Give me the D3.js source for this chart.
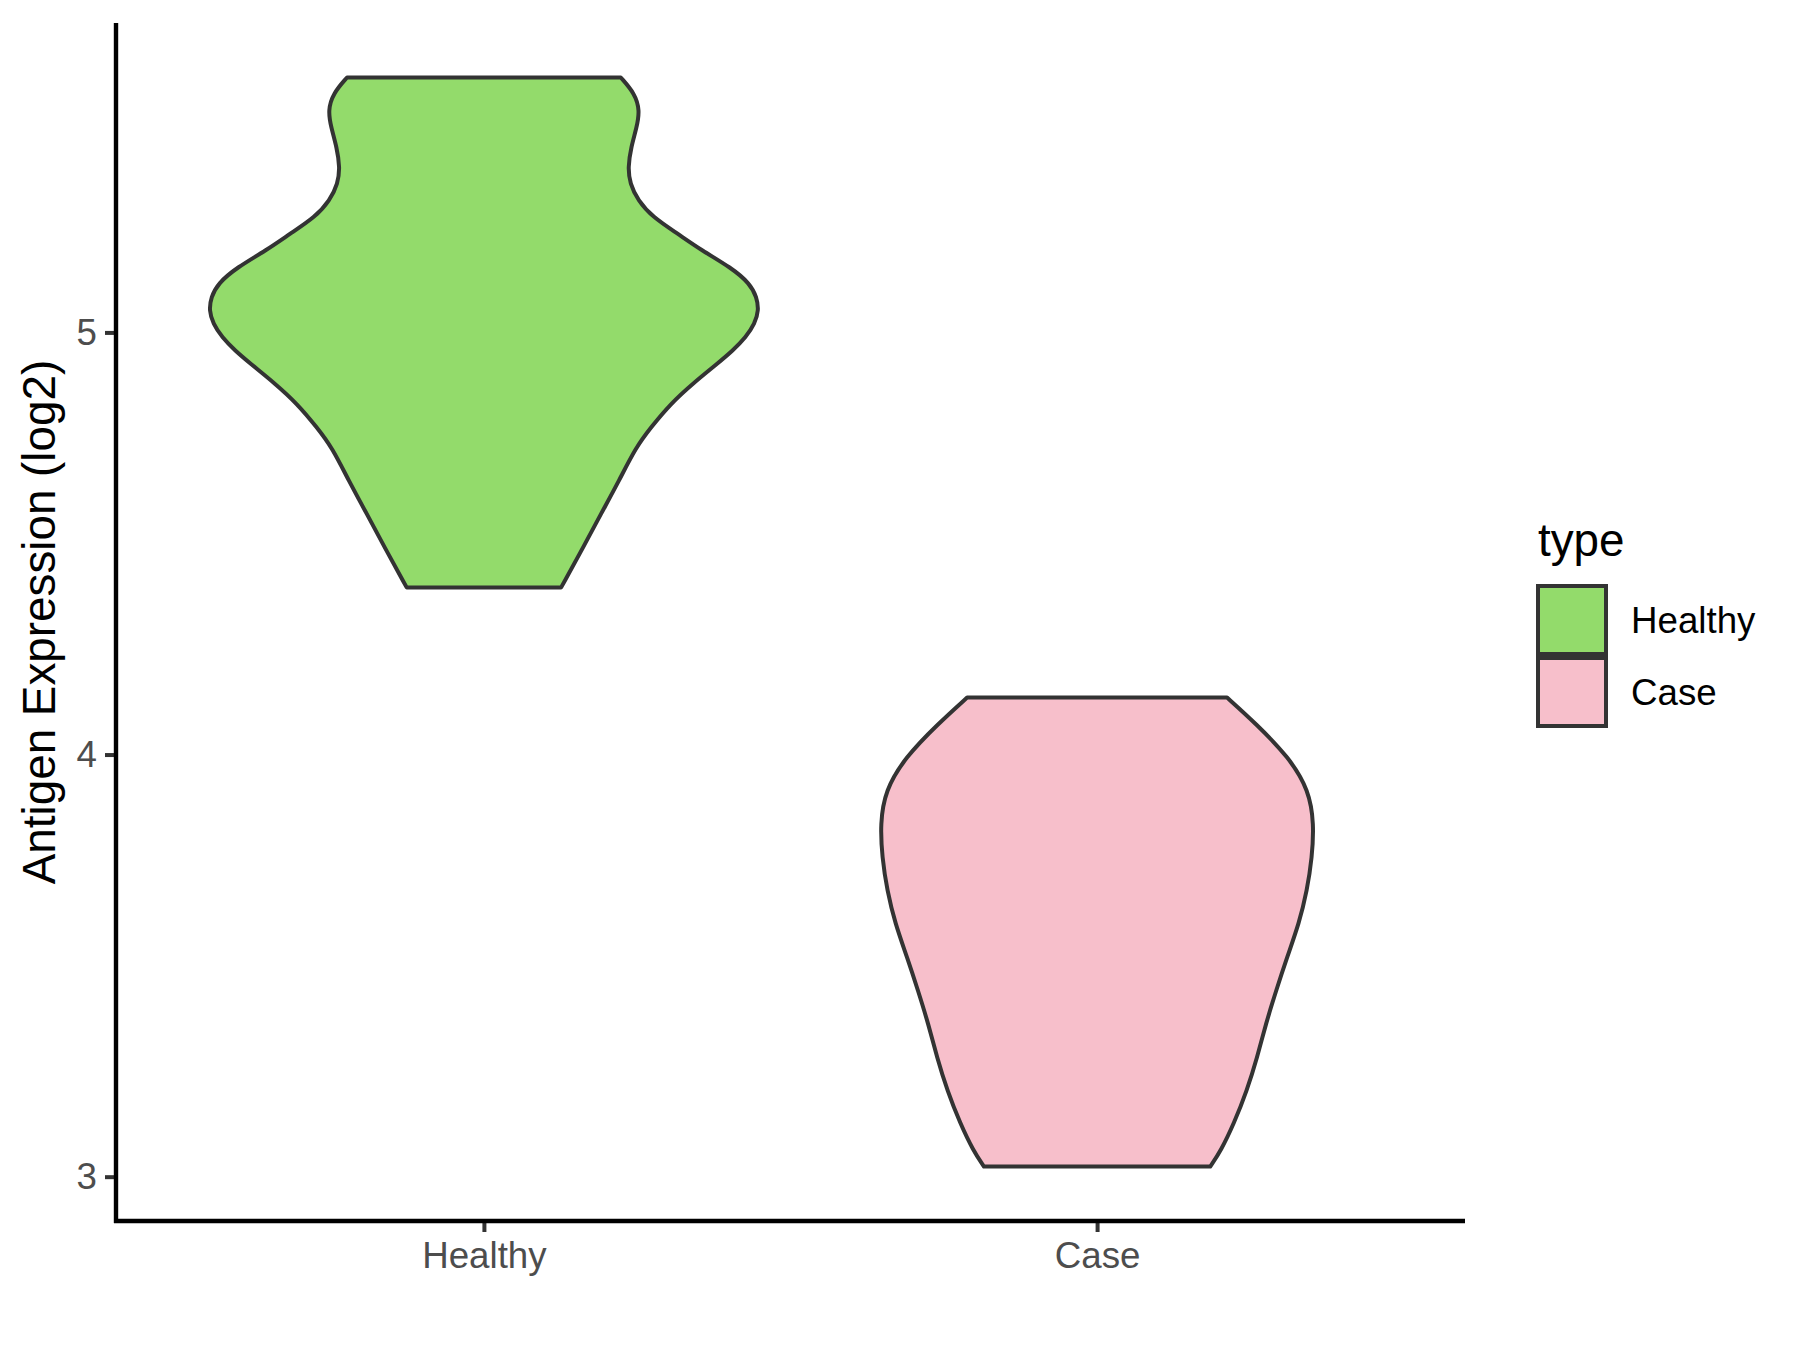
<!DOCTYPE html>
<html>
<head>
<meta charset="utf-8">
<script src="https://cdn.jsdelivr.net/npm/d3@7"></script>
<style>
  body { margin: 0; background: #fff; }
  svg { display: block; font-family: "Liberation Sans", Arial, sans-serif; }
</style>
</head>
<body>
<div id="plot"></div>
<script>
// groups on the x axis
const groups = ['Healthy', 'Case'];

// violin outlines: expression value and relative density
const healthyValues = [5.604, 5.566, 5.526, 5.486, 5.438, 5.391, 5.353, 5.313, 5.273, 5.235,
  5.194, 5.154, 5.116, 5.083, 5.052, 5.021, 4.988, 4.957, 4.927, 4.879,
  4.832, 4.775, 4.727, 4.649, 4.571, 4.491, 4.396];
const healthyDensity = [0.496, 0.547, 0.565, 0.554, 0.533, 0.522, 0.529, 0.558, 0.612, 0.70,
  0.79, 0.895, 0.964, 0.989, 0.996, 0.982, 0.949, 0.902, 0.848, 0.757,
  0.678, 0.605, 0.55, 0.49, 0.425, 0.36, 0.28];

const caseValues = [4.135, 4.073, 3.993, 3.915, 3.836, 3.756, 3.678, 3.600, 3.519, 3.441,
  3.363, 3.282, 3.204, 3.126, 3.062, 3.024];
const caseDensity = [0.471, 0.576, 0.696, 0.768, 0.786, 0.779, 0.761, 0.732, 0.688, 0.649,
  0.612, 0.580, 0.543, 0.496, 0.449, 0.41];

const yTicks = [3, 4, 5];

const fillColors = ['#93DB6B', '#F7BFCB'];

const plotViolins = (plotId) => {
  const W = 1800;
  const H = 1350;

  // panel position
  const panel = { left: 116, right: 1465, top: 23, bottom: 1221 };

  const svg = d3.select(`#${plotId}`)
    .append('svg')
    .attr('width', W)
    .attr('height', H);

  const violins = [
    { name: groups[0], values: healthyValues, dens: healthyDensity, fill: fillColors[0] },
    { name: groups[1], values: caseValues, dens: caseDensity, fill: fillColors[1] },
  ];

  // y limits like ggplot: data range plus 5%
  const allVals = healthyValues.concat(caseValues);
  const yMin = d3.min(allVals);
  const yMax = d3.max(allVals);
  const pad = (yMax - yMin) * 0.05;

  const y = d3.scaleLinear()
    .domain([yMin - pad, yMax + pad])
    .range([panel.bottom, panel.top]);

  const x = d3.scalePoint()
    .domain(groups)
    .range([panel.left, panel.right])
    .padding(0.6);

  // half width of a violin, max is 0.9 of the category spacing
  const w = d3.scaleLinear()
    .domain([0, 1])
    .range([0, x.step() * 0.45]);

  // violins
  violins.forEach((v) => {
    const cx = x(v.name);
    const pts = v.values.map((val, i) => ({ v: val, d: v.dens[i] }));
    const area = d3.area()
      .y(d => y(d.v))
      .x0(d => cx - w(d.d))
      .x1(d => cx + w(d.d))
      .curve(d3.curveBasis);

    svg.append('path')
      .attr('d', area(pts))
      .attr('fill', v.fill)
      .attr('stroke', '#333333')
      .attr('stroke-width', 4)
      .attr('stroke-linejoin', 'round');
  });

  // y axis
  const yAxis = svg.append('g')
    .attr('transform', `translate(${panel.left},0)`)
    .call(d3.axisLeft(y).tickValues(yTicks).tickSize(11).tickPadding(8).tickFormat(d3.format('d')));
  yAxis.select('.domain').remove();
  yAxis.selectAll('.tick line').attr('stroke', '#333333').attr('stroke-width', 4);
  yAxis.selectAll('.tick text')
    .attr('fill', '#4D4D4D')
    .style('font-size', '36.7px');

  // x axis
  const xAxis = svg.append('g')
    .attr('transform', `translate(0,${panel.bottom})`)
    .call(d3.axisBottom(x).tickSize(11).tickPadding(10));
  xAxis.select('.domain').remove();
  xAxis.selectAll('.tick line').attr('stroke', '#333333').attr('stroke-width', 4);
  xAxis.selectAll('.tick text')
    .attr('fill', '#4D4D4D')
    .style('font-size', '36.7px');

  // axis lines
  svg.append('line')
    .attr('x1', panel.left).attr('x2', panel.left)
    .attr('y1', panel.top).attr('y2', panel.bottom + 2)
    .attr('stroke', '#000').attr('stroke-width', 4.4);
  svg.append('line')
    .attr('x1', panel.left - 2).attr('x2', panel.right)
    .attr('y1', panel.bottom).attr('y2', panel.bottom)
    .attr('stroke', '#000').attr('stroke-width', 4.4);

  // y title
  svg.append('text')
    .attr('transform', `translate(55,${(panel.top + panel.bottom) / 2}) rotate(-90)`)
    .attr('text-anchor', 'middle')
    .attr('fill', '#000')
    .style('font-size', '45.8px')
    .text('Antigen Expression (log2)');

  // legend
  const legend = svg.append('g')
    .attr('transform', 'translate(1538,0)');

  legend.append('text')
    .attr('x', 0)
    .attr('y', 556)
    .attr('fill', '#000')
    .style('font-size', '45.8px')
    .text('type');

  const keySize = 68;
  violins.forEach((v, i) => {
    const top = 586 + i * (keySize + 4);
    legend.append('rect')
      .attr('x', 0)
      .attr('y', top)
      .attr('width', keySize)
      .attr('height', keySize)
      .attr('fill', v.fill)
      .attr('stroke', '#333333')
      .attr('stroke-width', 4);
    legend.append('text')
      .attr('x', 93)
      .attr('y', top + keySize / 2)
      .attr('dy', '0.35em')
      .attr('fill', '#000')
      .style('font-size', '36.7px')
      .text(v.name);
  });
};

plotViolins('plot');
</script>
</body>
</html>
